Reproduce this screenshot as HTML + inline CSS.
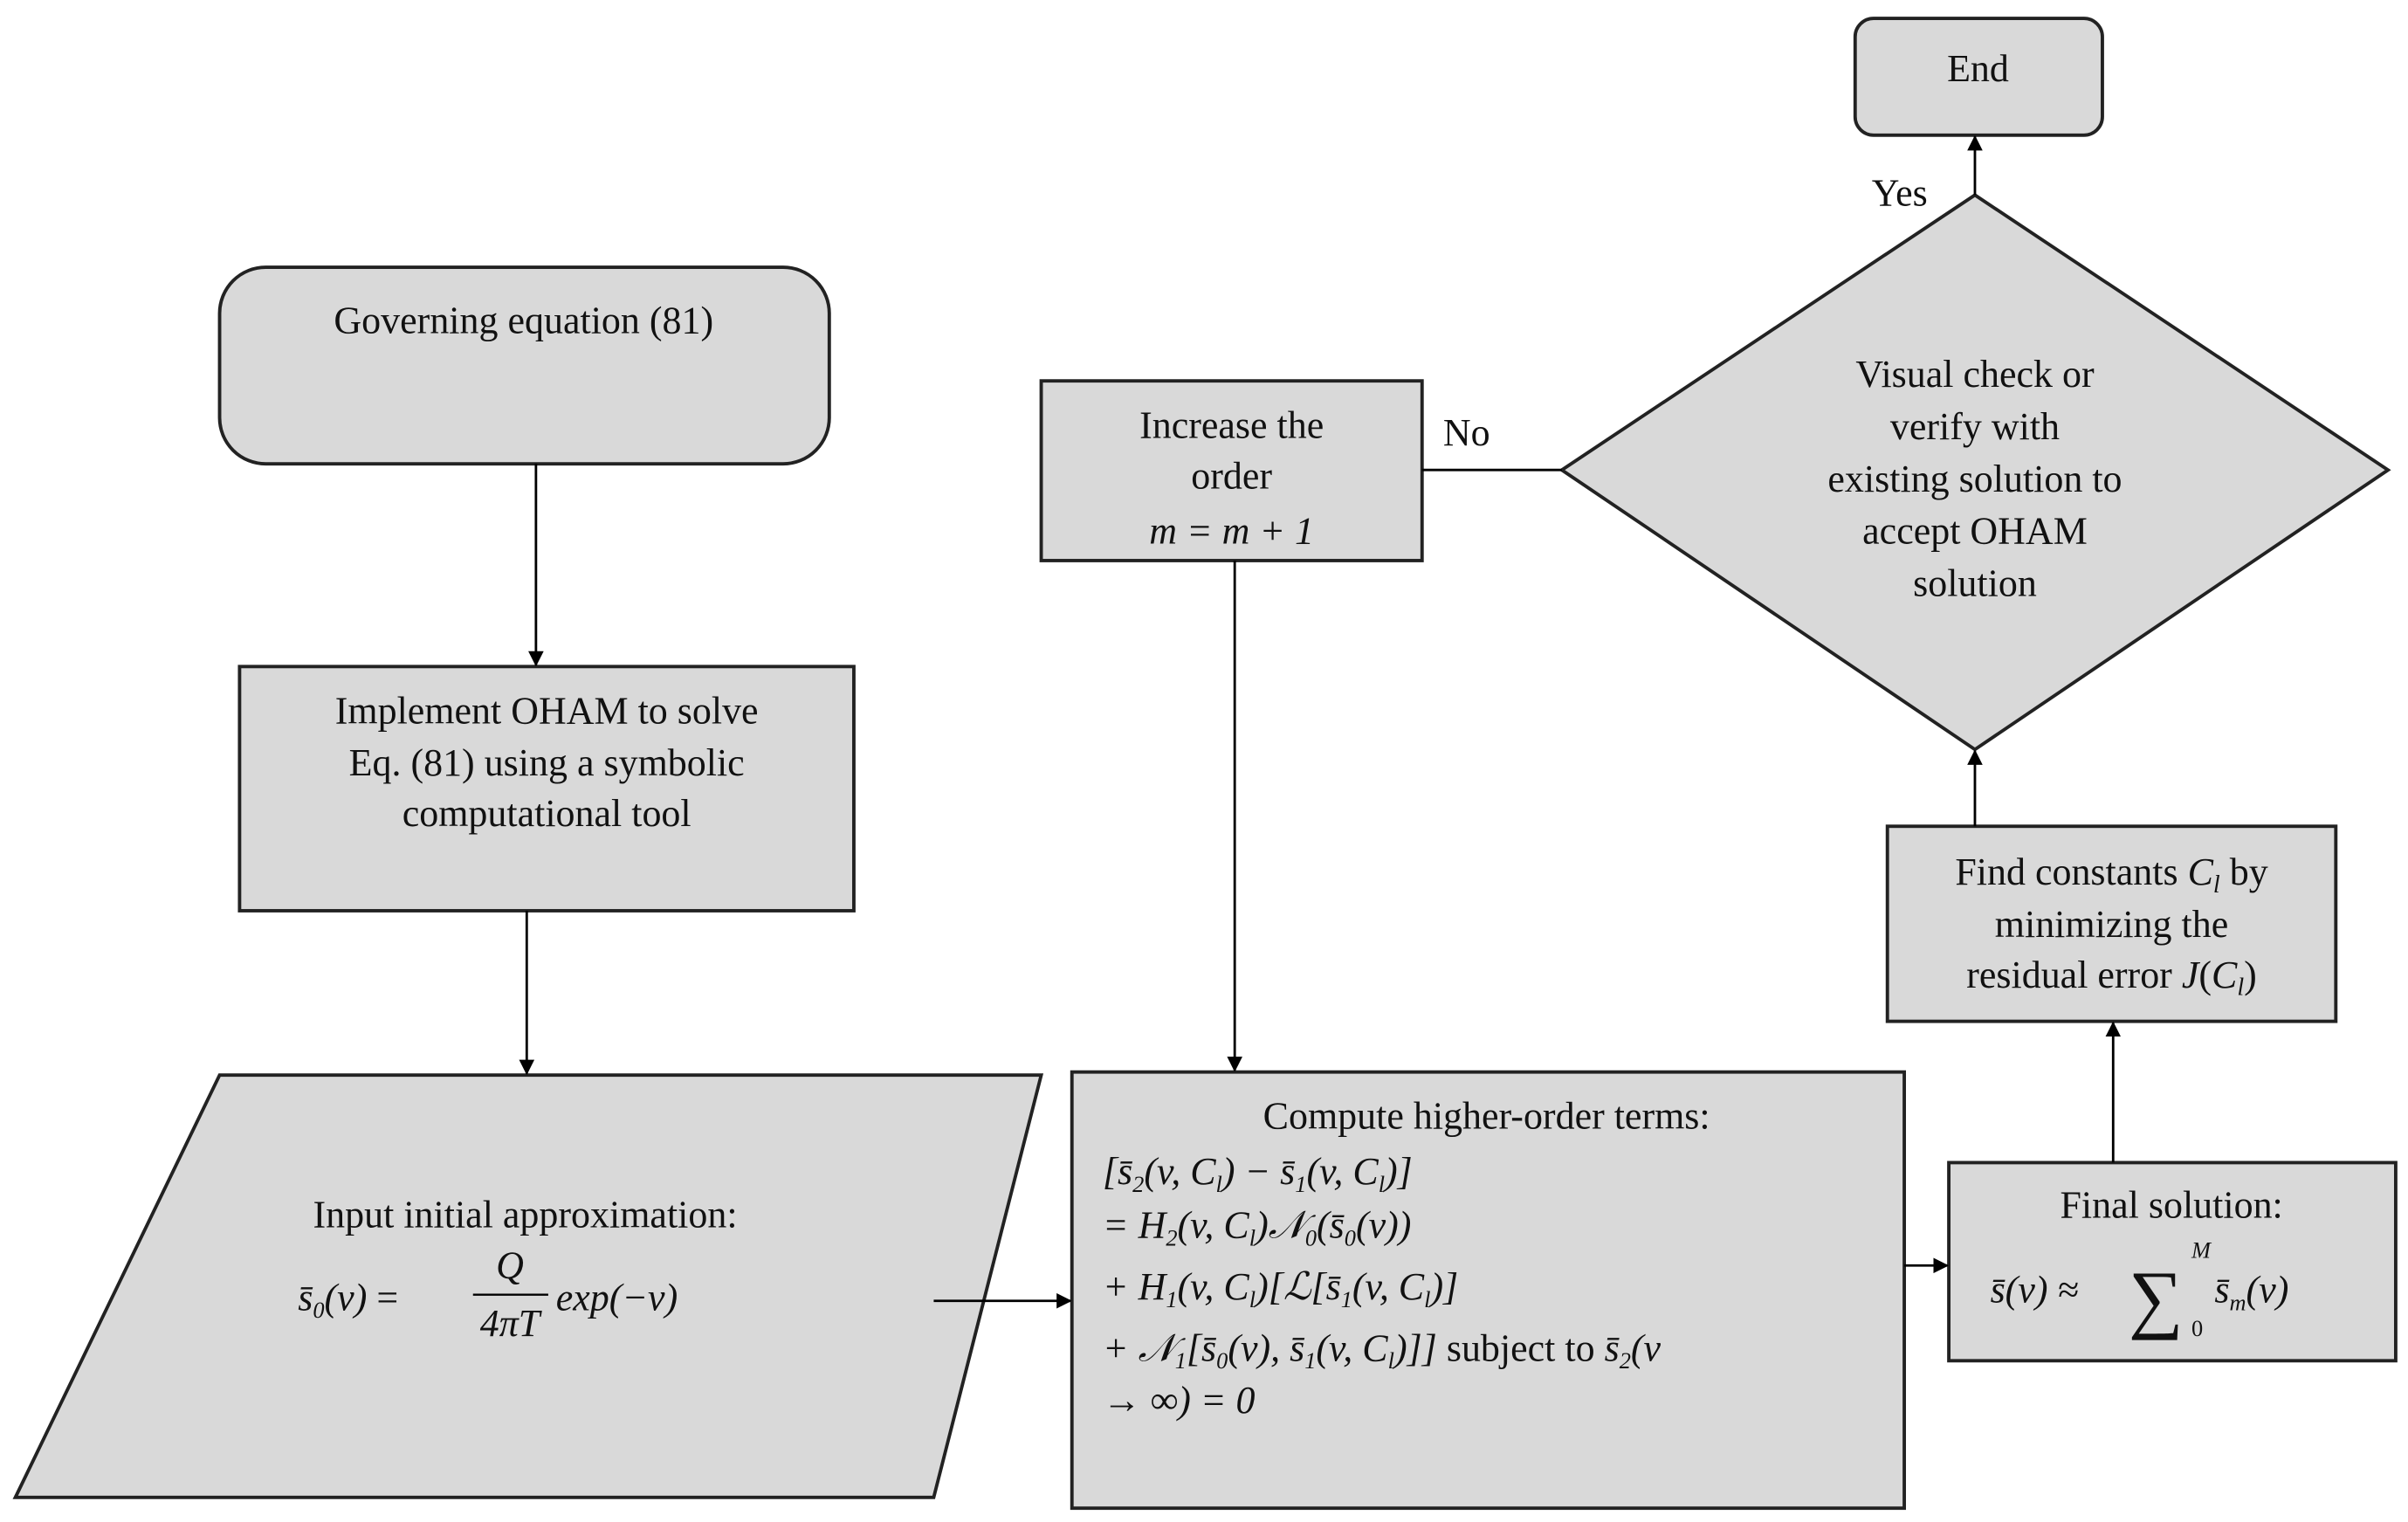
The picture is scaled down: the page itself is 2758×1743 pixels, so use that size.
<!DOCTYPE html>
<html><head><meta charset="utf-8"><style>
html,body{margin:0;padding:0;background:#fff;width:2758px;height:1743px;overflow:hidden}
svg{display:block}
text{font-family:"Liberation Serif",serif;font-size:25px;fill:#111}
.m{font-style:italic}
</style></head><body>
<svg width="2758" height="1743" viewBox="0 0 1568 991" preserveAspectRatio="none">
<defs><marker id="a" markerWidth="10" markerHeight="10" refX="9" refY="5" orient="auto" markerUnits="userSpaceOnUse"><path d="M0,0 L10,5 L0,10 z" fill="#000"/></marker></defs>
<g fill="#d9d9d9" stroke="#222" stroke-width="2.2">
<rect x="1208" y="12" width="161" height="76" rx="12"/>
<rect x="143" y="174" width="397" height="128" rx="30"/>
<rect x="156" y="434" width="400" height="159"/>
<polygon points="143,700 678,700 608,975 10,975"/>
<rect x="678" y="248" width="248" height="117"/>
<polygon points="1017,306 1286,127 1555,306 1286,488"/>
<rect x="1229" y="538" width="292" height="127"/>
<rect x="698" y="698" width="542" height="284"/>
<rect x="1269" y="757" width="291" height="129"/>
</g>
<g stroke="#000" stroke-width="1.6" fill="none">
<line x1="349" y1="302" x2="349" y2="433" marker-end="url(#a)"/>
<line x1="343" y1="593" x2="343" y2="699" marker-end="url(#a)"/>
<line x1="608" y1="847" x2="697" y2="847" marker-end="url(#a)"/>
<line x1="804" y1="365" x2="804" y2="697" marker-end="url(#a)"/>
<line x1="1017" y1="306" x2="926" y2="306"/>
<line x1="1286" y1="127" x2="1286" y2="89" marker-end="url(#a)"/>
<line x1="1286" y1="538" x2="1286" y2="489" marker-end="url(#a)"/>
<line x1="1376" y1="757" x2="1376" y2="666" marker-end="url(#a)"/>
<line x1="1240" y1="824" x2="1268" y2="824" marker-end="url(#a)"/>
</g>
<text x="1288" y="53" text-anchor="middle">End</text>
<text x="1237" y="134" text-anchor="middle">Yes</text>
<text x="955" y="290" text-anchor="middle">No</text>
<text x="341" y="217" text-anchor="middle">Governing equation (81)</text>
<g text-anchor="middle">
<text x="356" y="471">Implement OHAM to solve</text>
<text x="356" y="505">Eq. (81) using a symbolic</text>
<text x="356" y="538">computational tool</text>
<text x="802" y="285">Increase the</text>
<text x="802" y="318">order</text>
<text x="802" y="354" class="m">m = m + 1</text>
<text x="1286" y="252">Visual check or</text>
<text x="1286" y="286">verify with</text>
<text x="1286" y="320">existing solution to</text>
<text x="1286" y="354">accept OHAM</text>
<text x="1286" y="388">solution</text>
<text x="1375" y="576">Find constants <tspan class="m">C<tspan font-size="16" dy="5">l</tspan></tspan><tspan dy="-5"> by</tspan></text>
<text x="1375" y="610">minimizing the</text>
<text x="1375" y="643">residual error <tspan class="m">J</tspan>(<tspan class="m">C<tspan font-size="16" dy="5">l</tspan></tspan><tspan dy="-5">)</tspan></text>
<text x="1414" y="793">Final solution:</text>
<text x="342" y="799">Input initial approximation:</text>
<text x="968" y="735">Compute higher-order terms:</text>
</g>
<text x="1296" y="848" class="m">s̄(v) ≈</text>
<text x="1386" y="862" style="font-size:50px">∑</text>
<text x="1427" y="819" style="font-size:15px" class="m">M</text>
<text x="1427" y="870" style="font-size:15px">0</text>
<text x="1442" y="848" class="m">s̄<tspan font-size="15" dy="5">m</tspan><tspan dy="-5">(v)</tspan></text>
<text x="194" y="853" class="m">s̄<tspan font-size="15" dy="5">0</tspan><tspan dy="-5">(v) </tspan><tspan font-style="normal">=</tspan></text>
<text x="332" y="832" class="m" text-anchor="middle">Q</text>
<line x1="308" y1="843" x2="357" y2="843" stroke="#000" stroke-width="1.3"/>
<text x="332" y="870" class="m" text-anchor="middle">4πT</text>
<text x="362" y="853" class="m">exp(−v)</text>
<g class="m">
<text x="718" y="771">[s̄<tspan font-size="15" dy="5">2</tspan><tspan dy="-5">(v, C</tspan><tspan font-size="15" dy="5">l</tspan><tspan dy="-5">) − s̄</tspan><tspan font-size="15" dy="5">1</tspan><tspan dy="-5">(v, C</tspan><tspan font-size="15" dy="5">l</tspan><tspan dy="-5">)]</tspan></text>
<text x="718" y="806">= H<tspan font-size="15" dy="5">2</tspan><tspan dy="-5">(v, C</tspan><tspan font-size="15" dy="5">l</tspan><tspan dy="-5">)𝒩</tspan><tspan font-size="15" dy="5">0</tspan><tspan dy="-5">(s̄</tspan><tspan font-size="15" dy="5">0</tspan><tspan dy="-5">(v))</tspan></text>
<text x="718" y="846">+ H<tspan font-size="15" dy="5">1</tspan><tspan dy="-5">(v, C</tspan><tspan font-size="15" dy="5">l</tspan><tspan dy="-5">)[ℒ[s̄</tspan><tspan font-size="15" dy="5">1</tspan><tspan dy="-5">(v, C</tspan><tspan font-size="15" dy="5">l</tspan><tspan dy="-5">)]</tspan></text>
<text x="718" y="886">+ 𝒩<tspan font-size="15" dy="5">1</tspan><tspan dy="-5">[s̄</tspan><tspan font-size="15" dy="5">0</tspan><tspan dy="-5">(v), s̄</tspan><tspan font-size="15" dy="5">1</tspan><tspan dy="-5">(v, C</tspan><tspan font-size="15" dy="5">l</tspan><tspan dy="-5">)]]</tspan><tspan font-style="normal"> subject to </tspan> s̄<tspan font-size="15" dy="5">2</tspan><tspan dy="-5">(v</tspan></text>
<text x="718" y="920">→ ∞) = 0</text>
</g>
</svg>
</body></html>
